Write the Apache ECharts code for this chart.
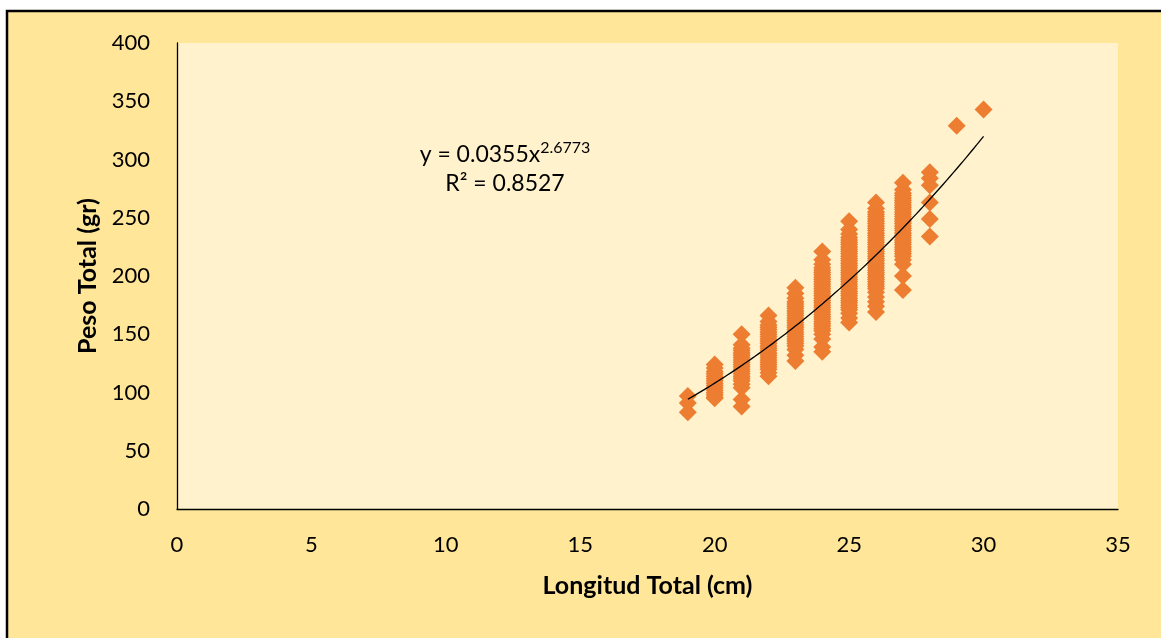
<!DOCTYPE html>
<html>
<head>
<meta charset="utf-8">
<title>Peso Total vs Longitud Total</title>
<script src="https://cdn.jsdelivr.net/npm/echarts@6/dist/echarts.min.js"></script>
<style>
  html, body { margin: 0; padding: 0; background: #ffffff; }
  #chart { width: 1161px; height: 638px; }
</style>
</head>
<body>
<div id="chart"></div>
<script>
// Peso total (gr) observed for each longitud total (cm)
const lengths = [19, 20, 21, 22, 23, 24, 25, 26, 27, 28, 29, 30];
const peso19 = [97, 91, 83];
const peso20 = [124, 121, 118, 116, 114, 112, 110, 108, 106, 104, 102, 100, 98, 96, 95];
const peso21 = [150, 141, 138, 136, 134, 132, 130, 128, 126, 124, 122, 120, 118, 116, 114, 112, 110, 107, 104, 94, 88];
const peso22 = [166, 161, 158, 156, 154, 152, 150, 148, 146, 144, 142, 140, 138, 136, 134, 132, 130, 128, 126, 124, 122, 120, 117, 114];
const peso23 = [190, 185, 181, 178, 176, 174, 172, 170, 168, 166, 164, 162, 160, 158, 156, 154, 152, 150, 148, 146, 144, 142, 140, 137, 132, 127];
const peso24 = [221, 214, 210, 207, 205, 203, 201, 199, 197, 195, 193, 191, 189, 187, 185, 183, 181, 179, 177, 175, 173, 171, 169, 167, 165, 163, 161, 159, 157, 155, 153, 150, 146, 139, 135];
const peso25 = [247, 240, 236, 233, 231, 229, 227, 225, 223, 221, 219, 217, 215, 213, 211, 209, 207, 205, 203, 201, 199, 197, 195, 193, 191, 189, 187, 185, 183, 181, 179, 177, 175, 173, 171, 168, 164, 160];
const peso26 = [263, 258, 255, 253, 251, 249, 247, 245, 243, 241, 239, 237, 235, 233, 231, 229, 227, 225, 223, 221, 219, 217, 215, 213, 211, 209, 207, 205, 203, 201, 199, 197, 195, 193, 191, 189, 186, 182, 178, 174, 169];
const peso27 = [280, 274, 271, 269, 267, 265, 263, 261, 259, 257, 255, 253, 251, 249, 247, 245, 243, 241, 239, 237, 235, 233, 231, 229, 227, 225, 223, 221, 219, 217, 214, 210, 200, 188];
const peso28 = [289, 284, 278, 263, 249, 234];
const peso29 = [329];
const peso30 = [343];

// Power trend fitted to the data: y = a * x^b
const trendA = 0.0355;
const trendB = 2.6773;
const trendR2 = 0.8527;

// Axis tick settings
const xTicks = { min: 0, max: 35, interval: 5 };
const yTicks = { min: 0, max: 400, interval: 50 };

const pesoByLength = [peso19, peso20, peso21, peso22, peso23, peso24,
                      peso25, peso26, peso27, peso28, peso29, peso30];

const scatterData = [];
lengths.forEach((len, i) => {
  pesoByLength[i].forEach(p => scatterData.push([len, p]));
});

const trendData = [];
for (let x = lengths[0]; x <= lengths[lengths.length - 1] + 1e-9; x += 0.25) {
  trendData.push([x, trendA * Math.pow(x, trendB)]);
}

const FONT = 'Lato, "Open Sans", sans-serif';

const chart = echarts.init(document.getElementById('chart'), null, { renderer: 'canvas' });

chart.setOption({
  backgroundColor: '#ffffff',
  animation: false,
  graphic: [
    {
      type: 'rect',
      z: -10,
      silent: true,
      shape: { x: 7, y: 11, width: 1170, height: 640 },
      style: { fill: '#FFE699', stroke: '#000000', lineWidth: 2.5 }
    },
    {
      type: 'text',
      z: 10,
      x: 505,
      y: 153,
      style: {
        text: '{m|y = ' + trendA.toFixed(4) + 'x}{s|' + trendB.toFixed(4) + '}',
        textAlign: 'center',
        align: 'center',
        textVerticalAlign: 'middle',
        verticalAlign: 'middle',
        rich: {
          m: { fontFamily: FONT, fontSize: 23, fill: '#000000', verticalAlign: 'bottom', lineHeight: 26 },
          s: { fontFamily: FONT, fontSize: 16, fill: '#000000', verticalAlign: 'top', lineHeight: 26 }
        }
      }
    },
    {
      type: 'text',
      z: 10,
      x: 505,
      y: 184,
      style: {
        text: 'R² = ' + trendR2.toFixed(4),
        textAlign: 'center',
        align: 'center',
        textVerticalAlign: 'middle',
        verticalAlign: 'middle',
        fontFamily: FONT,
        fontSize: 23,
        fill: '#000000'
      }
    }
  ],
  grid: {
    left: 177,
    top: 43,
    right: 43,
    bottom: 129,
    show: true,
    backgroundColor: '#FFF2CC',
    borderWidth: 0
  },
  xAxis: {
    type: 'value',
    min: xTicks.min,
    max: xTicks.max,
    interval: xTicks.interval,
    name: 'Longitud Total (cm)',
    nameLocation: 'middle',
    nameGap: 64,
    nameTextStyle: { fontFamily: FONT, fontSize: 25, fontWeight: 'bold', color: '#000000' },
    axisLine: { show: true, lineStyle: { color: '#000000', width: 1.3 } },
    axisTick: { show: false },
    splitLine: { show: false },
    axisLabel: { fontFamily: FONT, fontSize: 22, color: '#000000', margin: 25 }
  },
  yAxis: {
    type: 'value',
    min: yTicks.min,
    max: yTicks.max,
    interval: yTicks.interval,
    name: 'Peso Total (gr)',
    nameLocation: 'middle',
    nameGap: 74,
    nameTextStyle: { fontFamily: FONT, fontSize: 25, fontWeight: 'bold', color: '#000000' },
    axisLine: { show: true, lineStyle: { color: '#000000', width: 1.3 } },
    axisTick: { show: false },
    splitLine: { show: false },
    axisLabel: { fontFamily: FONT, fontSize: 22, color: '#000000', margin: 27 }
  },
  series: [
    {
      name: 'Peso Total',
      type: 'scatter',
      symbol: 'diamond',
      symbolSize: 18,
      itemStyle: { color: '#ED7D31', opacity: 1 },
      data: scatterData,
      z: 2
    },
    {
      name: 'Tendencia',
      type: 'line',
      data: trendData,
      smooth: true,
      symbol: 'none',
      lineStyle: { color: '#000000', width: 1.3 },
      z: 3
    }
  ]
});
</script>
</body>
</html>
